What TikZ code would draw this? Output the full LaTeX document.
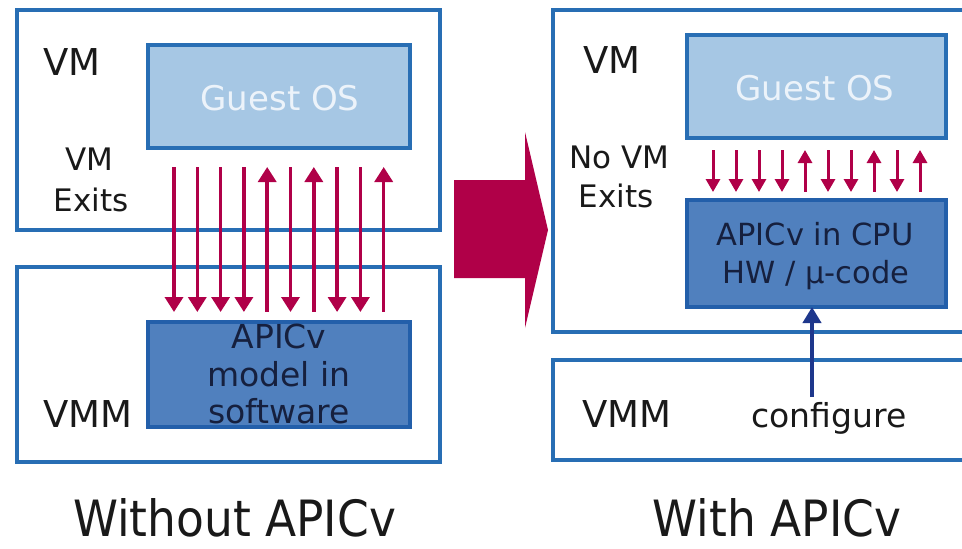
\documentclass[tikz,border=0pt]{standalone}
\usepackage{fontspec}
\setmainfont{DejaVu Sans}
\usetikzlibrary{arrows.meta}

\definecolor{boxblue}{RGB}{40,110,180}
\definecolor{guestfill}{RGB}{166,199,228}
\definecolor{guesttext}{RGB}{236,243,250}
\definecolor{apicfill}{RGB}{80,128,190}
\definecolor{apicedge}{RGB}{35,95,170}
\definecolor{apictext}{RGB}{22,32,62}
\definecolor{crimson}{RGB}{176,0,72}
\definecolor{cfgblue}{RGB}{30,55,140}
\definecolor{ink}{RGB}{25,25,25}

\begin{document}
\begin{tikzpicture}[x=1pt,y=-1pt,
  frame/.style={draw=boxblue, line width=4pt, inner sep=0pt, outer sep=0pt, fill=white},
  guestbox/.style={draw=boxblue, line width=4pt, fill=guestfill, inner sep=0pt, outer sep=0pt},
  apicbox/.style={draw=apicedge, line width=4pt, fill=apicfill, inner sep=0pt, outer sep=0pt},
  lbl/.style={anchor=base, inner sep=0pt, text=ink, font=\fontsize{37}{44}\selectfont},
  small/.style={anchor=base, inner sep=0pt, text=ink, font=\fontsize{31}{38}\selectfont},
  guestlbl/.style={anchor=base, inner sep=0pt, text=guesttext, font=\fontsize{34}{40}\selectfont},
  apiclbl/.style={anchor=base, inner sep=0pt, text=apictext, font=\fontsize{33}{38}\selectfont},
  cpulbl/.style={anchor=base, inner sep=0pt, text=apictext, font=\fontsize{30.5}{36}\selectfont},
  caption/.style={anchor=base, inner sep=0pt, text=ink, font=\fontsize{50}{58}\selectfont},
  exitdown/.style={draw=crimson, line width=3.5pt, -{Triangle[length=15pt,width=18pt]}},
  exitup/.style={draw=crimson, line width=3.5pt, {Triangle[length=15pt,width=18pt]}-},
  hwdown/.style={draw=crimson, line width=3pt, -{Triangle[length=13pt,width=14pt]}},
  hwup/.style={draw=crimson, line width=3pt, {Triangle[length=13pt,width=14pt]}-},
  cfgarrow/.style={draw=cfgblue, line width=4pt, -{Triangle[length=16pt,width=18pt]}}
]
\useasboundingbox (0,0) rectangle (962,549);
\fill[white] (0,0) rectangle (962,549);

\begin{scope}
\clip (0,0) rectangle (962,549);

% ---------- left side: without APICv ----------
\node[frame, minimum width=423pt, minimum height=220pt] (vmL) at (228.5,120) {};
\node[frame, minimum width=423pt, minimum height=195pt] (vmmL) at (228.5,364.5) {};
\node[guestbox, minimum width=262pt, minimum height=103pt] (guestL) at (279,96.5) {};
\node[apicbox, minimum width=262pt, minimum height=105pt] (apicL) at (279,374.5) {};

\node[lbl, anchor=base west] (vmLlbl) at (43,75) {VM};
\node[small] (exitsL1) at (89,170) {VM};
\node[small] (exitsL2) at (91,211) {Exits};
\node[guestlbl] (guestLlbl) at (280,110) {Guest OS};
\node[lbl, anchor=base west] (vmmLlbl) at (43,427) {VMM};

% exits: guest OS <-> software model (d = down, u = up)
\foreach \k/\dir in {0/d,1/d,2/d,3/d,4/u,5/d,6/u,7/d,8/d,9/u}{
  \pgfmathsetmacro{\off}{26+23.3*\k}
  \if d\dir
    \draw[exitdown] ([xshift=\off pt, yshift=-19pt]guestL.south west) -- ([xshift=\off pt, yshift=10pt]apicL.north west);
  \else
    \draw[exitup] ([xshift=\off pt, yshift=-19pt]guestL.south west) -- ([xshift=\off pt, yshift=10pt]apicL.north west);
  \fi
}

\node[apiclbl] (apicL1) at (279,348) {APICv};
\node[apiclbl] (apicL2) at (279,386) {model in};
\node[apiclbl] (apicL3) at (279,423) {software};

% ---------- transition arrow ----------
\fill[crimson] (454,180) -- (525,180) -- (525,132) -- (548,230) -- (525,328)
  -- (525,278) -- (454,278) -- cycle;

% ---------- right side: with APICv ----------
\node[frame, minimum width=427pt, minimum height=322pt] (vmR) at (766.5,171) {};
\node[frame, minimum width=427pt, minimum height=100pt] (vmmR) at (766.5,410) {};
\node[guestbox, minimum width=259pt, minimum height=103pt] (guestR) at (816.5,86.5) {};
\node[apicbox, minimum width=259pt, minimum height=107pt] (apicR) at (816.5,253.5) {};

\node[lbl, anchor=base west] (vmRlbl) at (583,73) {VM};
\node[small] (noexits1) at (619,168) {No VM};
\node[small] (noexits2) at (616,207) {Exits};
\node[guestlbl] (guestRlbl) at (815,100) {Guest OS};
\node[cpulbl] (cpu1) at (815,245) {APICv in CPU};
\node[cpulbl] (cpu2) at (816,283) {HW / µ-code};
\node[lbl, anchor=base west] (vmmRlbl) at (582,427) {VMM};
\node[apiclbl, text=ink] (cfg) at (829,427) {configure};

\foreach \k/\dir in {0/d,1/d,2/d,3/d,4/u,5/d,6/d,7/u,8/d,9/u}{
  \pgfmathsetmacro{\off}{26+23*\k}
  \if d\dir
    \draw[hwdown] ([xshift=\off pt, yshift=-12pt]guestR.south west) -- ([xshift=\off pt, yshift=8pt]apicR.north west);
  \else
    \draw[hwup] ([xshift=\off pt, yshift=-12pt]guestR.south west) -- ([xshift=\off pt, yshift=8pt]apicR.north west);
  \fi
}

\coordinate (cfgtail) at (812,397);
\draw[cfgarrow] (cfgtail) -- (cfgtail |- apicR.south);
\end{scope}

% ---------- captions ----------
\node[caption] (capL) at (234.5,536) {\scalebox{0.91}[1]{Without APICv}};
\node[caption] (capR) at (777,536) {\scalebox{0.91}[1]{With APICv}};
\end{tikzpicture}
\end{document}
